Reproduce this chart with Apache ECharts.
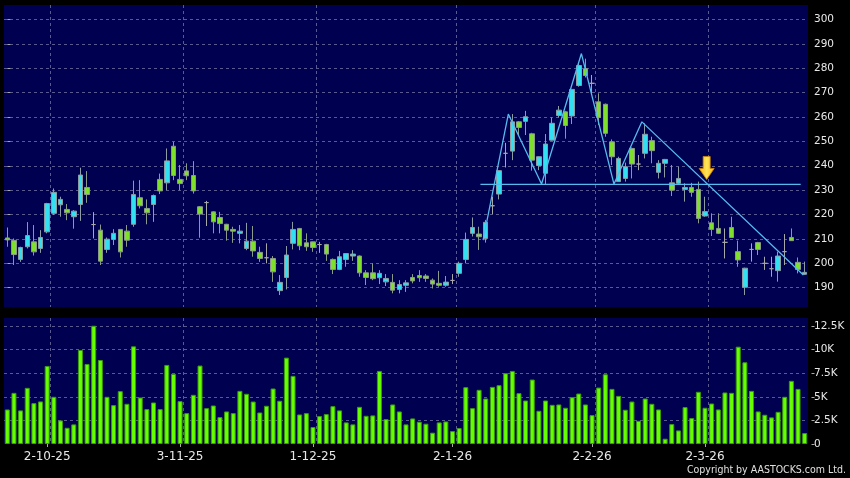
<!DOCTYPE html>
<html><head><meta charset="utf-8">
<script src="https://cdn.jsdelivr.net/npm/echarts@6/dist/echarts.min.js"></script>
<style>html,body{margin:0;padding:0;background:#000;} #c{width:850px;height:478px;}</style>
</head><body><div id="c"></div>
<script>
const opens = [210.4,209.4,201.6,206.8,208.8,206.1,212.9,220.5,224.0,222.1,
219.1,224.1,231.1,215.9,213.6,205.7,209.8,213.9,213.2,216.0,
226.9,222.5,224.1,234.4,233.0,248.0,234.4,237.9,236.0,223.2,
224.9,221.1,218.8,216.0,213.9,212.3,206.1,209.1,204.5,202.3,
202.0,188.8,194.2,208.2,214.3,208.4,208.8,207.7,207.7,201.6,
197.5,201.6,203.0,203.0,196.1,196.1,194.1,192.4,192.2,189.3,
191.0,194.2,195.0,194.8,193.1,191.8,191.0,193.0,195.9,201.6,
212.3,212.0,210.2,223.6,228.4,245.1,246.0,258.0,258.2,253.1,
240.1,236.9,250.5,260.6,262.1,260.4,272.9,279.8,273.8,266.2,
265.2,249.8,233.5,234.8,247.1,240.7,245.1,250.3,237.3,241.0,
233.0,232.8,230.3,231.1,230.3,219.4,216.6,214.3,208.6,214.7,
204.8,190.2,205.7,208.5,200.0,197.8,197.0,204.8,210.6,200.4,195.5];
const closes = [209.6,203.6,206.5,211.4,204.7,210.6,224.5,229.1,226.2,220.7,
221.4,236.2,228.2,215.9,200.9,209.9,212.3,204.7,209.5,228.2,
223.6,220.7,227.8,229.7,242.0,236.0,232.7,235.9,229.7,220.2,
224.9,217.0,216.3,213.6,213.2,213.2,209.1,205.1,202.0,202.3,
196.5,192.2,203.4,213.9,207.2,206.8,206.5,207.7,203.8,197.5,
202.7,204.0,203.8,196.1,194.2,193.7,195.9,193.8,189.0,191.3,
192.0,192.8,194.1,193.8,191.5,191.0,192.3,193.0,200.0,209.8,
214.7,210.9,216.8,223.6,238.0,245.1,258.0,255.7,260.1,242.3,
243.7,248.9,257.4,262.8,256.5,271.3,281.1,277.0,273.8,259.8,
253.3,243.7,243.0,239.6,240.7,240.7,252.9,246.2,241.0,242.6,
230.0,234.8,231.1,229.1,218.4,221.2,213.9,212.3,208.6,210.6,
201.4,198.0,205.7,205.7,200.0,197.8,203.0,204.8,209.3,197.5,196.3];
const lows = [206.8,199.3,200.6,206.1,203.2,204.3,212.3,219.8,219.1,217.7,
214.2,217.4,224.8,210.2,199.3,204.3,207.5,202.4,206.8,215.0,
222.5,216.0,217.0,228.4,230.0,234.1,230.0,234.1,228.6,210.5,
215.3,212.3,212.3,209.3,208.4,208.2,205.4,202.7,200.6,200.0,
192.4,187.0,189.3,205.7,205.4,205.1,204.7,204.3,201.0,195.6,
197.2,198.6,201.0,194.5,191.1,193.1,191.5,190.7,187.7,187.7,
188.3,191.8,192.4,192.4,189.7,190.4,190.4,191.5,194.5,200.0,
211.0,205.5,208.5,220.2,226.2,239.3,242.3,252.6,252.6,238.0,
238.2,232.5,250.3,259.8,251.1,257.1,272.4,276.2,269.7,256.7,
251.9,240.3,233.4,233.5,234.8,238.2,243.0,241.0,234.8,235.2,
227.6,232.1,225.3,227.3,216.4,219.1,211.2,212.0,202.0,210.4,
198.6,187.0,200.7,203.4,197.3,194.5,192.5,199.3,209.2,195.9,195.2];
const highs = [214.7,210.2,206.8,216.9,215.7,213.6,224.8,230.7,227.3,224.3,
221.8,239.2,237.8,221.0,215.9,210.6,214.0,214.0,215.7,233.9,
234.1,226.2,228.2,236.8,247.1,249.8,240.3,241.0,241.9,223.5,
225.6,221.3,221.1,216.2,215.0,215.7,216.6,215.3,206.8,208.2,
203.0,195.2,207.1,217.0,214.5,212.3,208.9,208.8,208.0,202.0,
205.1,204.2,205.4,203.2,197.2,200.0,197.2,195.6,195.6,193.1,
193.1,195.6,197.2,195.6,193.8,196.9,194.8,195.6,200.7,212.6,
218.8,215.0,217.8,227.3,238.2,249.4,261.2,258.3,262.5,253.5,
243.9,253.0,259.8,264.5,262.5,271.5,282.0,283.9,277.2,269.7,
265.5,250.8,243.7,241.3,247.5,244.4,257.4,251.9,242.3,242.8,
240.3,239.6,232.8,233.0,233.5,227.3,220.5,220.5,214.3,219.1,
209.3,198.2,208.2,208.8,202.7,202.7,204.8,212.0,214.3,202.4,200.7];
// volume in thousands
const volumes = [3.66,5.42,3.56,5.95,4.33,4.51,8.27,5.0,2.5,1.72,
2.08,9.96,8.48,12.53,8.9,5.0,4.12,5.6,4.26,10.35,
4.93,3.7,4.4,3.7,8.38,7.43,4.54,3.27,5.21,8.31,
3.8,4.08,2.85,3.45,3.27,5.63,5.32,4.5,3.34,4.05,
5.88,4.58,9.15,7.22,3.13,3.27,1.8,2.96,3.17,4.01,
3.56,2.29,2.08,3.94,2.99,3.03,7.74,2.64,4.19,3.45,
2.08,2.71,2.36,2.15,1.2,2.29,2.39,1.37,1.69,6.02,
3.8,5.74,4.82,6.05,6.23,7.5,7.74,5.39,4.61,6.83,
3.52,4.61,4.15,4.19,3.84,4.96,5.35,4.19,3.06,5.98,
7.39,5.84,5.1,3.63,4.5,2.46,4.82,4.26,3.66,0.56,
2.11,1.44,3.91,2.75,5.53,3.84,4.29,3.66,5.46,5.42,
10.31,8.66,5.63,3.45,3.1,2.82,3.41,5.0,6.69,5.84,1.16];
const labelIndex = [6, 26, 46, 67, 88, 105];
const labelText = ['2-10-25', '3-11-25', '1-12-25', '2-1-26', '2-2-26', '2-3-26'];
const priceTicks = [190, 200, 210, 220, 230, 240, 250, 260, 270, 280, 290, 300];
const volumeTicks = [0, 2.5, 5, 7.5, 10, 12.5];
// annotation lines: [bar index, price]
const zigzag = [[71.6, 209.5], [75.4, 261.2], [80.4, 232.5], [86.4, 286.0], [91.3, 232.5], [95.5, 258.0], [119.8, 195.2]];
const supportLine = [[71.2, 232.4], [119.4, 232.4]];
const arrowPoint = [[105.25, 239.1]];

const N = opens.length;
const candleData = opens.map((o, i) => [o, closes[i], lows[i], highs[i]]);
const catIdx = opens.map((_, i) => String(i));
const splitIdx = labelIndex.map(i => i + 1);
const gridLine = { color: '#5a5a90', type: [3, 3], width: 1 };
const xSplit = { show: true, interval: (i) => splitIdx.includes(i), showMaxLine: false, lineStyle: gridLine };

const chart = echarts.init(document.getElementById('c'), null, { renderer: 'canvas' });
chart.setOption({
  backgroundColor: '#000',
  animation: false,
  textStyle: { fontFamily: 'DejaVu Sans' },
  grid: [
    { left: 4, top: 5, width: 804, height: 302, show: true, backgroundColor: '#000050', borderWidth: 0 },
    { left: 4, top: 318, width: 804, height: 126, show: true, backgroundColor: '#000050', borderWidth: 0 }
  ],
  xAxis: [
    { type: 'category', gridIndex: 0, data: catIdx, boundaryGap: true,
      axisLine: { show: false }, axisTick: { show: false }, axisLabel: { show: false }, splitLine: xSplit },
    { type: 'category', gridIndex: 1, data: catIdx, boundaryGap: true, offset: 2,
      axisLine: { show: false },
      axisTick: { show: true, alignWithLabel: true, interval: (i) => labelIndex.includes(i), length: 3, lineStyle: { color: '#aaaaaa' } },
      axisLabel: { interval: (i) => labelIndex.includes(i), formatter: (v, i) => { const k = labelIndex.indexOf(Number(v)); return k >= 0 ? labelText[k] : ''; }, color: '#e8e8e8', fontSize: 12, margin: 5, fontFamily: 'DejaVu Sans' },
      splitLine: xSplit },
    { type: 'value', gridIndex: 0, min: -0.5, max: N - 0.5, show: false }
  ],
  yAxis: [
    { type: 'value', gridIndex: 0, position: 'right', min: 182.1, max: 305.9, offset: 3.5, scale: true,
      axisLine: { show: false },
      axisTick: { show: true, length: 3, lineStyle: { color: '#aaaaaa' }, customValues: priceTicks },
      axisLabel: { customValues: priceTicks, color: '#e8e8e8', fontSize: 10.5, margin: 2.5, fontFamily: 'DejaVu Sans' },
      splitLine: { show: true, lineStyle: gridLine } },
    { type: 'value', gridIndex: 1, position: 'right', min: 0, max: 13.35, offset: 3.5,
      axisLine: { show: false },
      axisTick: { show: true, length: 3, lineStyle: { color: '#aaaaaa' }, customValues: volumeTicks },
      axisLabel: { customValues: volumeTicks, color: '#e8e8e8', fontSize: 10.5, margin: 2.5, fontFamily: 'DejaVu Sans',
        formatter: v => v === 0 ? '0' : (v + 'K') },
      splitLine: { show: true, showMinLine: false, lineStyle: gridLine } }
  ],
  series: [
    { type: 'candlestick', xAxisIndex: 0, yAxisIndex: 0, data: candleData, barWidth: 5,
      itemStyle: { color: '#33e0f2', color0: '#7fe02c', borderColor: '#8c9ca2', borderColor0: '#8c9a8c', borderColorDoji: '#a8a8a8', borderWidth: 1 } },
    { type: 'bar', xAxisIndex: 1, yAxisIndex: 1, data: volumes, barWidth: 5,
      itemStyle: { color: '#66ff00', borderColor: '#3a9a10', borderWidth: 1 } },
    { type: 'line', xAxisIndex: 2, yAxisIndex: 0, data: zigzag, symbol: 'none', silent: true,
      lineStyle: { color: '#55bbee', width: 1.3 } },
    { type: 'line', xAxisIndex: 2, yAxisIndex: 0, data: supportLine, symbol: 'none', silent: true,
      lineStyle: { color: '#55bbee', width: 1.3 } },
    { type: 'scatter', xAxisIndex: 2, yAxisIndex: 0, data: arrowPoint, silent: true,
      symbol: 'path://M4,0 L11,0 L11,12 L15,12 L7.5,23 L0,12 L4,12 Z', symbolSize: [15, 23],
      itemStyle: { color: { type: 'linear', x: 0, y: 0, x2: 1, y2: 0, colorStops: [{ offset: 0, color: '#ffb300' }, { offset: 0.5, color: '#ffe45a' }, { offset: 1, color: '#ffb300' }] }, borderColor: '#d08800', borderWidth: 0.8, opacity: 1 } }
  ],
  graphic: [
    { type: 'text', right: 4, top: 465, style: { text: 'Copyright by AASTOCKS.com Ltd.', fill: '#e0e0e0', fontSize: 10.5, fontFamily: 'DejaVu Sans Condensed' } }
  ]
});
</script></body></html>
